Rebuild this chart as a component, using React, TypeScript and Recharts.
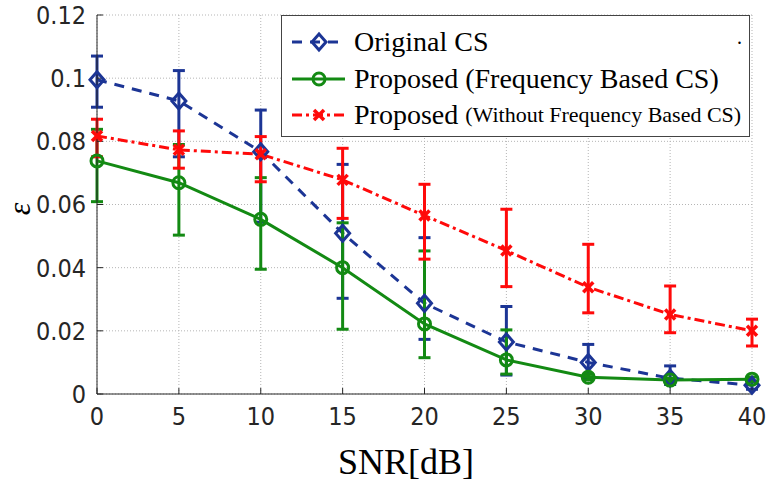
import React from "react"
import { LineChart, Line, XAxis, YAxis, CartesianGrid, ErrorBar, Legend, Label } from "recharts"

const snr = [0, 5, 10, 15, 20, 25, 30, 35, 40]

const original = [0.0995, 0.0928, 0.0767, 0.0509, 0.0287, 0.0165, 0.01, 0.005, 0.0028]
const originalLow = [0.0908, 0.0751, 0.0544, 0.0303, 0.0173, 0.006, 0.005, 0.003, 0.0015]
const originalHigh = [0.107, 0.1024, 0.0899, 0.0727, 0.0495, 0.0277, 0.0157, 0.0089, 0.004]

const freqBased = [0.0738, 0.0669, 0.0553, 0.04, 0.0222, 0.0108, 0.0053, 0.0044, 0.0047]
const freqBasedLow = [0.0609, 0.0503, 0.0395, 0.0205, 0.0115, 0.0063, 0.0045, 0.0038, 0.004]
const freqBasedHigh = [0.0838, 0.079, 0.0685, 0.0542, 0.0453, 0.0203, 0.0062, 0.005, 0.0054]

const withoutFreq = [0.0817, 0.0773, 0.0759, 0.0678, 0.0565, 0.0454, 0.0338, 0.0252, 0.02]
const withoutFreqLow = [0.0751, 0.0715, 0.0672, 0.0556, 0.0427, 0.034, 0.0257, 0.0194, 0.0152]
const withoutFreqHigh = [0.087, 0.0833, 0.0815, 0.0778, 0.0664, 0.0585, 0.0474, 0.0342, 0.0237]

const xTicks = [0, 5, 10, 15, 20, 25, 30, 35, 40]
const yTicks = [0, 0.02, 0.04, 0.06, 0.08, 0.1, 0.12]

const BLUE = "#1c3595"
const GREEN = "#138a13"
const RED = "#ff0a0a"

const rows = snr.map((s, i) => ({
  snr: s,
  orig: original[i],
  origErr: [original[i] - originalLow[i], originalHigh[i] - original[i]],
  freq: freqBased[i],
  freqErr: [freqBased[i] - freqBasedLow[i], freqBasedHigh[i] - freqBased[i]],
  without: withoutFreq[i],
  withoutErr: [withoutFreq[i] - withoutFreqLow[i], withoutFreqHigh[i] - withoutFreq[i]],
}))

const tickFont = { fontFamily: "'Liberation Sans Narrow', 'DejaVu Sans Condensed', sans-serif", fontSize: 25, fill: "#262626" }
const serif = "'Liberation Serif', 'DejaVu Serif', serif"

function Diamond({ cx, cy }: any) {
  return <polygon points={`${cx},${cy - 8} ${cx + 7},${cy} ${cx},${cy + 8} ${cx - 7},${cy}`} fill="none" stroke={BLUE} strokeWidth={3} />
}
function Circ({ cx, cy }: any) {
  return <circle cx={cx} cy={cy} r={6} fill="none" stroke={GREEN} strokeWidth={3} />
}
function Cross({ cx, cy }: any) {
  const s = 5
  return (
    <g stroke={RED} strokeWidth={3.5}>
      <line x1={cx - s} y1={cy - s} x2={cx + s} y2={cy + s} />
      <line x1={cx - s} y1={cy + s} x2={cx + s} y2={cy - s} />
    </g>
  )
}

const legendItems = [
  { name: "Original CS", small: "", color: BLUE, dash: "10 8", Marker: Diamond },
  { name: "Proposed (Frequency Based CS)", small: "", color: GREEN, dash: undefined, Marker: Circ },
  { name: "Proposed", small: "(Without Frequency Based CS)", color: RED, dash: "10 4 3 4", Marker: Cross },
]

function LegendBox() {
  return (
    <div style={{ position: "relative", width: 469, height: 122, border: "1px solid #444", background: "#fff", boxSizing: "border-box", fontFamily: serif, color: "#000" }}>
      {legendItems.map((it, i) => (
        <div key={it.name + i} style={{ position: "absolute", left: 0, top: 8 + i * 36.5, height: 36, display: "flex", alignItems: "center", whiteSpace: "nowrap" }}>
          <svg width={72} height={36} style={{ flex: "none" }}>
            <line x1={10} y1={18} x2={63} y2={18} stroke={it.color} strokeWidth={3} strokeDasharray={it.dash} />
            <it.Marker cx={37} cy={18} />
          </svg>
          <span style={{ fontSize: 28, lineHeight: "36px" }}>{it.name}</span>
          {it.small && <span style={{ fontSize: 22, lineHeight: "36px", marginLeft: 7 }}>{it.small}</span>}
        </div>
      ))}
      <span style={{ position: "absolute", left: 455, top: 10, fontSize: 20 }}>.</span>
    </div>
  )
}

export default function App() {
  return (
    <div style={{ position: "absolute", left: 0, top: 0, width: 766, height: 482, background: "#fff" }}>
      <LineChart width={766} height={482} data={rows} margin={{ top: 15, right: 14, bottom: 0, left: 0 }}>
        <CartesianGrid stroke="#b5b5b5" strokeDasharray="1 2" />
        <XAxis
          dataKey="snr"
          type="number"
          domain={[0, 40]}
          ticks={xTicks}
          height={88}
          tickSize={-6}
          tickMargin={19}
          stroke="#262626"
          tick={tickFont}
          label={<Label content={() => <text x={406} y={474} textAnchor="middle" fontFamily={serif} fontSize={36} fill="#000">SNR[dB]</text>} />}
        />
        <XAxis xAxisId="top" orientation="top" type="number" domain={[0, 40]} ticks={xTicks} height={0} tickSize={-6} tickFormatter={() => ""} stroke="#262626" />
        <YAxis
          type="number"
          domain={[0, 0.12]}
          ticks={yTicks}
          width={97}
          tickSize={-6}
          tickMargin={17}
          stroke="#262626"
          tick={tickFont}
          label={<Label content={() => <text x={30} y={209} transform="rotate(-90 30 209)" textAnchor="middle" fontFamily={serif} fontStyle="italic" fontSize={32} fill="#000">ε</text>} />}
        />
        <YAxis yAxisId="right" orientation="right" type="number" domain={[0, 0.12]} ticks={yTicks} width={0} tickSize={-6} tickFormatter={() => ""} stroke="#262626" />
        <Line dataKey="orig" stroke={BLUE} strokeWidth={3} strokeDasharray="10 8" isAnimationActive={false} dot={(p: any) => <Diamond key={"o" + p.index} cx={p.cx} cy={p.cy} />}>
          <ErrorBar dataKey="origErr" direction="y" width={6} stroke={BLUE} strokeWidth={3} isAnimationActive={false} />
        </Line>
        <Line dataKey="freq" stroke={GREEN} strokeWidth={3} isAnimationActive={false} dot={(p: any) => <Circ key={"f" + p.index} cx={p.cx} cy={p.cy} />}>
          <ErrorBar dataKey="freqErr" direction="y" width={6} stroke={GREEN} strokeWidth={3} isAnimationActive={false} />
        </Line>
        <Line dataKey="without" stroke={RED} strokeWidth={3} strokeDasharray="10 4 3 4" isAnimationActive={false} dot={(p: any) => <Cross key={"w" + p.index} cx={p.cx} cy={p.cy} />}>
          <ErrorBar dataKey="withoutErr" direction="y" width={6} stroke={RED} strokeWidth={3} isAnimationActive={false} />
        </Line>
        <Legend
          layout="vertical"
          align="center"
          verticalAlign="middle"
          wrapperStyle={{ left: 281, top: 15, width: 470, height: 123 }}
          content={() => <LegendBox />}
        />
      </LineChart>
    </div>
  )
}
